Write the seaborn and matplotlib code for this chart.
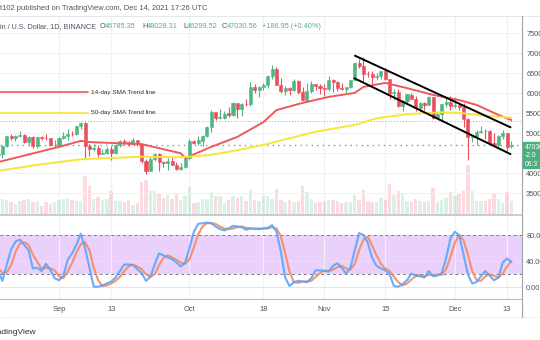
import numpy as np
import pandas as pd
import matplotlib
matplotlib.use("Agg")
import matplotlib.pyplot as plt
from matplotlib.lines import Line2D
from matplotlib.patches import Rectangle
import seaborn as sns

# ---------------- data ----------------
dates = pd.date_range("2021-08-18", "2021-12-14", freq="D")

opens = [44690,44740,46760,49340,48870,49290,49530,47710,48990,46840,49070,48900,48810,46990,
         47150,48850,49250,49940,49920,51760,52660,46860,46070,46370,44850,45140,46060,44960,47090,48140,
         47760,47300,48300,47240,42990,40690,43560,44880,42810,42670,43160,42170,41030,41520,
         43820,48140,47630,48200,49220,51470,55320,53790,53950,54950,54660,57470,56000,57370,57350,61670,
         60880,61530,62030,64260,65990,62200,60690,61300,60850,63080,60330,58450,60590,62250,61880,
         61300,61000,63230,62940,61440,61000,61530,63300,67530,66930,64860,64800,64140,64400,65500,
         63600,60100,60360,56900,58100,59700,58700,56280,57570,57170,58960,53740,54740,57270,57800,
         56950,57180,56480,53600,49150,49400,50440,50590,50470,47540,47140,49390,50100,46785]
highs = [46000,47050,49380,49760,49500,50500,49870,49230,49350,49170,49300,49760,48900,48250,
         49000,50400,51000,50560,51900,52780,52920,47380,47350,47030,45980,46460,46880,47250,48450,48500,
         48170,48820,48370,47330,43600,44000,44980,45200,42970,43900,44350,42780,42600,44130,
         48500,48360,49230,49500,51890,55750,55340,56100,55480,56560,57800,57680,57550,58530,62930,62350,
         61720,62600,64490,67000,66640,63730,61740,61490,63700,63290,61500,62500,62980,62350,62400,
         62450,64270,63500,63120,62600,61590,63300,67790,68530,69000,65600,65470,65000,65560,66400,
         63620,61000,60980,58370,59850,60000,59270,57870,57740,59400,59170,55300,57450,58870,59250,
         59040,57380,57600,53900,49700,50890,51940,51190,50800,50100,49480,50800,50200,48028]
lows = [44200,43950,46620,48300,48000,49030,47600,47100,46300,46360,48370,48260,46860,46700,
        46500,48600,48400,49400,49500,50970,43500,44410,45500,44150,44730,44740,43370,44750,46700,47000,
        46750,47050,46850,42500,39900,40580,43100,40680,41650,40800,42100,40900,40750,41400,
        43280,47430,47100,46900,49070,50380,53360,53620,53660,54100,54410,53880,54250,56820,56850,60150,
        58960,60880,61320,63480,62000,60000,59600,59500,60650,59820,58000,57820,60170,60720,59950,
        59400,60600,60380,60680,60720,60100,61350,63280,66380,62820,64100,62300,63360,63600,63400,
        58570,58370,56470,55600,57420,58600,55610,55320,55850,57000,53500,53650,53250,56700,55880,
        56450,55830,51680,43300,47730,47100,50040,48600,47320,46850,46600,48630,45670,46299]
closes = [44740,46760,49340,48870,49290,49530,47710,48990,46840,49070,48900,48810,46990,47150,
          48850,49250,49940,49920,51760,52660,46860,46070,46370,44850,45140,46060,44960,47090,48140,47760,
          47300,48300,47240,42990,40690,43560,44880,42810,42670,43160,42170,41030,41520,43820,
          48140,47630,48200,49220,51470,55320,53790,53950,54950,54660,57470,56000,57370,57350,61670,60880,
          61530,62030,64260,65990,62200,60690,61300,60850,63080,60330,58450,60590,62250,61880,61300,
          61000,63230,62940,61440,61000,61530,63300,67530,66930,64860,64800,64140,64400,65500,63600,
          60100,60360,56900,58100,59700,58700,56280,57570,57170,58960,53740,54740,57270,57800,56950,
          57180,56480,53600,49150,49400,50440,50590,50470,47540,47140,49390,50100,46700,47030.56]
volumes = [15,15.7,15,12.3,11,13.3,14.3,15.7,12.7,13.7,
           8.3,12.3,10.3,12.3,15,15.7,16.3,14.3,13.7,13.7,
           39,29,15.7,17.7,14.3,15.7,23.3,13.3,13.7,12.3,
           14.3,10,11.7,32.3,35,23.3,23.3,21.7,16.7,20,
           15.7,21,15,18.3,27.7,11.7,12.3,15.7,15.7,22.3,
           18.3,18.3,11.7,14.3,18.3,16.3,18.3,13.3,25,14.3,
           13.3,18.3,18.3,15.7,25.7,15,12.3,15,13,13.3,
           28.3,23,15.7,11.7,12.3,13.3,14.3,14.3,13.7,11.7,
           12.3,13,20,14.3,25,13.3,12.3,13,16.7,15,
           31,20,23.3,21.7,13.3,12.3,15.7,13.3,12.3,13.3,
           26.3,12.3,14.3,16.7,22.3,18.3,21,23.3,50,23.3,
           13.3,13.3,13.3,15.7,21,15.7,11.7,22.3,13.3]

sma14_dates = pd.to_datetime(["2021-08-18","2021-09-01","2021-09-06","2021-09-08","2021-09-20",
    "2021-09-29","2021-09-30","2021-10-06","2021-10-12","2021-10-18","2021-10-21","2021-10-27",
    "2021-11-02","2021-11-08","2021-11-10","2021-11-15","2021-11-20","2021-11-26","2021-12-02",
    "2021-12-06","2021-12-11","2021-12-14"])
sma14_vals = [42800,46600,48100,47800,47300,45000,43800,46600,49100,52800,55800,57600,
              59100,60100,61600,62600,61300,59600,58300,57100,54600,53300]
sma50_dates = pd.to_datetime(["2021-08-18","2021-08-27","2021-09-06","2021-09-20","2021-09-29",
    "2021-10-06","2021-10-12","2021-10-18","2021-10-24","2021-10-30","2021-11-08","2021-11-13",
    "2021-11-20","2021-11-28","2021-12-03","2021-12-09","2021-12-14"])
sma50_vals = [40600,42100,43500,44150,44000,44600,45800,47100,48750,50400,52100,53750,
              54800,55250,55000,54300,53900]

stoch_k = [25,10,35,58,70,73,65,57,29,30, 25,36,27,14,11,18,42,52,65,82,
           60,30,1,1,3,6,9,15,25,35, 35,34,28,22,10,16,35,52,49,46,
           43,38,32,38,60,85,97,98,99,98, 93,89,87,90,94,93,92,88,90,90,
           89,90,91,95,85,55,15,2,8,10, 9,8,14,26,26,25,24,33,37,30,
           21,30,57,83,80,68,45,33,29,26, 20,2,1,5,11,21,18,17,15,25,
           17,18,22,45,75,85,80,50,20,6, 8,17,25,18,11,15,38,44,39]
stoch_d = [30,22,23,34,54,67,69,65,50,39, 28,30,29,26,17,14,24,37,53,66,
           69,57,30,11,2,3,6,10,16,25, 32,35,32,28,20,16,20,34,45,49,
           46,42,38,36,43,61,81,93,98,98, 97,93,90,89,90,92,93,91,90,89,
           90,90,90,92,90,78,52,24,8,7, 9,9,10,16,22,26,25,27,31,33,
           29,27,36,57,73,77,64,49,36,29, 25,16,8,3,6,12,17,19,17,19,
           19,20,19,28,47,68,80,72,50,25, 11,10,17,20,18,15,21,32,40]

channel_upper_dates = pd.to_datetime(["2021-11-08 01:00", "2021-12-13 19:00"])
channel_upper_vals = [69400, 51500]
channel_lower_dates = pd.to_datetime(["2021-11-07 22:00", "2021-12-13 19:00"])
channel_lower_vals = [63750, 44800]

legend_dates = pd.to_datetime(["2021-08-17 00:00", "2021-09-07 16:00"])
legend_14_val = 60300
legend_50_val = 55100
prev_line_val = 53100
last_price = 47030.56

price_ticks = [35000, 40000, 45000, 50000, 55000, 60000, 65000, 70000, 75000]
price_tick_labels = ["35000", "40000", "", "50000", "55000", "60000", "65000", "70000", "75000"]
stoch_ticks = [0, 40, 80]
stoch_tick_labels = ["0.00", "40.00", "80.00"]
date_ticks = pd.to_datetime(["2021-09-01","2021-09-13","2021-10-01","2021-10-18",
                             "2021-11-01","2021-11-15","2021-12-01","2021-12-13"])
date_tick_labels = ["Sep", "13", "Oct", "18", "Nov", "15", "Dec", "13"]

# ---------------- style ----------------
sns.set_theme(style="white")
plt.rcParams["font.family"] = ["Liberation Sans", "DejaVu Sans"]

UP = "#4fb583"
DOWN = "#eb4d5c"
TXT = "#50535e"
GRID = "#eff1f6"

W, H = 540, 340
fig = plt.figure(figsize=(5.4, 3.4), dpi=100)
fig.patch.set_facecolor("white")

def box(x0, y0, x1, y1):
    return [x0 / W, 1 - y1 / H, (x1 - x0) / W, (y1 - y0) / H]

def fx(x):
    return x / W

def fy(y):
    return 1 - y / H

ax_vol = fig.add_axes(box(0, 15.5, 522, 214.5))
ax = fig.add_axes(box(0, 15.5, 522, 214.5), sharex=ax_vol)
ax_st = fig.add_axes(box(0, 215.5, 522, 299))

x0 = pd.Timestamp("2021-08-18") + pd.Timedelta(days=0.44)
x1 = pd.Timestamp("2021-08-18") + pd.Timedelta(days=120.44)

# volume
up = np.array(closes) >= np.array(opens)
vcols = [UP if u else DOWN for u in up]
ax_vol.bar(dates, volumes, width=0.78, color=vcols, alpha=0.2, linewidth=0)
ax_vol.set_ylim(0, 199)
ax_vol.axis("off")

ax.set_zorder(2)
ax.patch.set_visible(False)

# grid
for d in date_ticks:
    ax_vol.axvline(d, color=GRID, lw=0.8, zorder=0)
for p in price_ticks:
    ax.axhline(p, color=GRID, lw=0.8, zorder=0)

# candles
ccols = [UP if u else DOWN for u in up]
ax.vlines(dates, lows, highs, colors=ccols, lw=0.8, zorder=3)
body_bottom = np.minimum(opens, closes)
body_h = np.abs(np.array(closes) - np.array(opens))
ax.bar(dates, body_h, bottom=body_bottom, width=0.7, color=ccols,
       edgecolor=ccols, linewidth=0.4, zorder=4)

# SMA lines
sns.lineplot(x=sma14_dates, y=sma14_vals, ax=ax, color="#f0595b", linewidth=1.4, zorder=5)
sns.lineplot(x=sma50_dates, y=sma50_vals, ax=ax, color="#f9e43a", linewidth=1.4, zorder=5)

# legend-like drawn lines
sns.lineplot(x=legend_dates, y=[legend_14_val] * 2, ax=ax, color="#f0595b", linewidth=1.2)
sns.lineplot(x=legend_dates, y=[legend_50_val] * 2, ax=ax, color="#f9e43a", linewidth=1.2)
tx = pd.Timestamp("2021-09-08 10:00")
ax.text(tx, legend_14_val, "14-day SMA Trend line", fontsize=4.6, color="#2a2e39", va="center")
ax.text(tx, legend_50_val, "50-day SMA Trend line", fontsize=4.6, color="#2a2e39", va="center")

# channel
sns.lineplot(x=channel_upper_dates, y=channel_upper_vals, ax=ax, color="black", linewidth=1.4, zorder=6)
sns.lineplot(x=channel_lower_dates, y=channel_lower_vals, ax=ax, color="black", linewidth=1.4, zorder=6)

# horizontal dotted lines
ax.axhline(prev_line_val, color="#a3a6af", lw=0.7, ls=(0, (1, 2)), zorder=2)
ax.axhline(last_price, color=UP, lw=1.0, ls=(0, (1, 3)), zorder=2)

ax.set_xlim(x0, x1)
ax.set_ylim(29700, 79450)
ax.yaxis.tick_right()
ax.set_yticks(price_ticks)
ax.set_yticklabels(price_tick_labels)
ax.tick_params(axis="y", length=0, pad=3, labelsize=5.3, labelcolor=TXT)
ax.set_xticks(date_ticks)
ax.tick_params(axis="x", length=0, labelbottom=False)
ax.set_xlabel("")
ax.set_ylabel("")
for s in ax.spines.values():
    s.set_visible(False)
for s in ax_vol.spines.values():
    s.set_visible(False)

# stochastic panel
ax_st.axhspan(20, 80, color="#ead1fb", lw=0, zorder=0)
for d in date_ticks:
    ax_st.axvline(d, color=GRID, lw=0.8, zorder=0.5)
for v in [0, 40]:
    ax_st.axhline(v, color="#e8e2f0", lw=0.8, zorder=0.5)
ax_st.axhline(80, color="#787b86", lw=0.7, ls=(0, (3, 3)), zorder=1)
ax_st.axhline(20, color="#787b86", lw=0.7, ls=(0, (3, 3)), zorder=1)
sns.lineplot(x=dates, y=stoch_d, ax=ax_st, color="#f58a5e", linewidth=1.5, alpha=0.9, zorder=3)
sns.lineplot(x=dates, y=stoch_k, ax=ax_st, color="#5aa5fa", linewidth=1.5, alpha=0.9, zorder=4)
ax_st.set_xlim(x0, x1)
ax_st.set_ylim(-17.7, 109.8)
ax_st.yaxis.tick_right()
ax_st.set_yticks(stoch_ticks)
ax_st.set_yticklabels(stoch_tick_labels)
ax_st.tick_params(axis="y", length=0, pad=3, labelsize=5.3, labelcolor=TXT)
ax_st.set_xticks(date_ticks)
ax_st.set_xticklabels(date_tick_labels)
ax_st.tick_params(axis="x", length=0, pad=5, labelsize=5.4, labelcolor=TXT)
ax_st.set_xlabel("")
ax_st.set_ylabel("")
for s in ax_st.spines.values():
    s.set_visible(False)

# frame lines
def hline(y, xa, xb, color, lw):
    fig.add_artist(Line2D([fx(xa), fx(xb)], [fy(y), fy(y)], color=color, lw=lw, zorder=4))

def vline(x, ya, yb, color, lw):
    fig.add_artist(Line2D([fx(x), fx(x)], [fy(ya), fy(yb)], color=color, lw=lw, zorder=4))

hline(15.5, 0, 540, "#e0e3eb", 0.6)
hline(215, 0, 522, "#c5c8d0", 1.3)
hline(299, 0, 522, "#b8bbc4", 0.8)
hline(317, 0, 540, "#eceef2", 0.6)
vline(522, 15.5, 317, "#9ea1aa", 0.8)

# price label box
fig.add_artist(Rectangle((fx(522.5), fy(168)), (540 - 522.5) / W, 26 / H,
                         transform=fig.transFigure, color="#4caf7e", zorder=6))
fig.text(fx(525), fy(147.5), "47030.56", fontsize=4.9, color="white", va="center", zorder=7)
fig.text(fx(525), fy(156), "-2.0", fontsize=4.9, color="white", va="center", zorder=7)
fig.text(fx(525), fy(164.5), "06:3", fontsize=4.9, color="white", va="center", zorder=7)

# header
fig.text(fx(0), fy(9), "t102 published on TradingView.com, Dec 14, 2021 17:26 UTC",
         fontsize=5.4, color=TXT, va="center")
hy = fy(26.5)
fig.text(fx(0), hy, "in / U.S. Dollar, 1D, BINANCE", fontsize=5.2, color=TXT, va="center")
pieces = [(100, "O", TXT), (105, "46785.35", UP), (142, "H", TXT), (147, "48028.31", UP),
          (183, "L", TXT), (187, "46299.52", UP), (221.5, "C", TXT), (226.5, "47030.56", UP),
          (262, "+186.95 (+0.40%)", UP)]
for x, s, c in pieces:
    fig.text(fx(x), hy, s, fontsize=5.3, color=c, va="center")

# footer
fig.text(fx(36.5), fy(332), "TradingView", fontsize=6, color="#2a2e39", va="center", ha="right")

fig.savefig("out.png", dpi=100)
